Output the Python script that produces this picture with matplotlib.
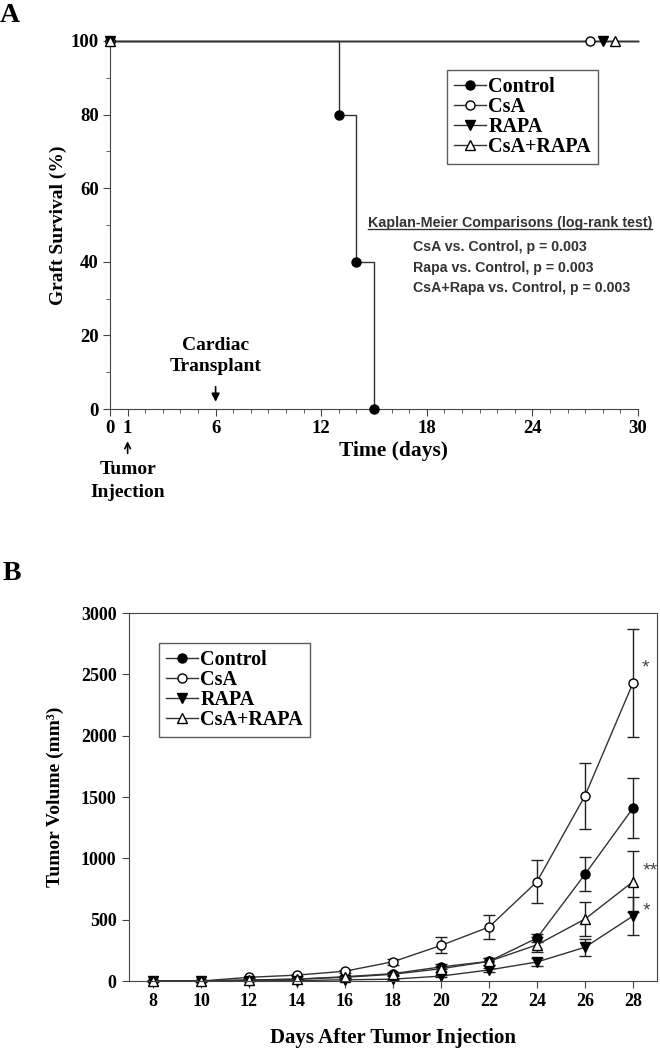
import numpy as np
import matplotlib.pyplot as plt
from matplotlib.ticker import MultipleLocator, FixedLocator
from matplotlib.lines import Line2D

plt.rcParams['font.family'] = ['Liberation Serif', 'DejaVu Serif']
plt.rcParams['font.weight'] = 'bold'

# ---- Panel A: graft survival (Kaplan-Meier) ----
ctrl_times = [0, 13, 14, 15]
ctrl_surv = [100, 80, 40, 0]
groups = ['Control', 'CsA', 'RAPA', 'CsA+RAPA']
flat_groups = ['CsA', 'RAPA', 'CsA+RAPA']
flat_surv = [100, 100, 100]
censor_day = [27.3, 28.0, 28.7]
followup_end = 30

# ---- Panel B: tumor volume ----
days = [8, 10, 12, 14, 16, 18, 20, 22, 24, 26, 28]
control = [0, 0, 8, 15, 35, 60, 115, 160, 350, 870, 1410]
csa = [0, 0, 30, 48, 80, 157, 290, 440, 810, 1510, 2430]
rapa = [0, 0, 2, 3, 10, 15, 40, 90, 155, 275, 530]
csa_rapa = [0, 0, 8, 15, 30, 55, 100, 160, 295, 505, 810]
control_err = [0, 0, 3, 5, 8, 12, 20, 30, 30, 140, 245]
csa_err = [0, 0, 6, 8, 12, 25, 65, 95, 177, 270, 440]
rapa_err = [0, 0, 1, 2, 3, 5, 10, 20, 30, 70, 155]
csa_rapa_err = [0, 0, 3, 5, 8, 12, 25, 30, 60, 140, 250]
stars = ['*', '**', '*']   # CsA, CsA+RAPA, RAPA at day 28

line_c = '#333333'
styles = {
    'Control': dict(marker='o', mfc='black', mec='black', ms=6.5),
    'CsA': dict(marker='o', mfc='white', mec='black', ms=6.5),
    'RAPA': dict(marker='v', mfc='black', mec='black', ms=7),
    'CsA+RAPA': dict(marker='^', mfc='white', mec='black', ms=7),
}

fig = plt.figure(figsize=(6.6, 10.49), dpi=100)
W, H = 660, 1049

def axes_px(l, r, t, b):
    return fig.add_axes([l / W, 1 - b / H, (r - l) / W, (b - t) / H])

def legend_handles():
    return [Line2D([], [], color=line_c, lw=1, **styles[g]) for g in groups]

# ================= Panel A =================
axA = axes_px(110, 638, 41, 409)
axA.step(ctrl_times, ctrl_surv, where='post', color=line_c, lw=1, clip_on=False, zorder=2)
axA.plot(ctrl_times, ctrl_surv, ls='none', clip_on=False, zorder=4, **styles['Control'])
for g, s, c in zip(flat_groups, flat_surv, censor_day):
    axA.plot([0, followup_end], [s, s], color=line_c, lw=1, clip_on=False, zorder=2)
    axA.plot([0, c], [s, s], ls='none', clip_on=False, zorder=4, **styles[g])

axA.set_xlim(0, 30)
axA.set_ylim(0, 100)
for sp in ['top', 'right']:
    axA.spines[sp].set_visible(False)
for sp in ['left', 'bottom']:
    axA.spines[sp].set_color('#444444')
axA.xaxis.set_major_locator(FixedLocator([0, 1, 6, 12, 18, 24, 30]))
axA.xaxis.set_minor_locator(MultipleLocator(1))
axA.yaxis.set_major_locator(MultipleLocator(20))
axA.yaxis.set_minor_locator(MultipleLocator(10))
axA.tick_params(which='both', direction='out', color='#444444')
axA.tick_params(which='major', length=5, labelsize=13.5, pad=3)
axA.tick_params(which='minor', length=3)
for lab in axA.get_xticklabels() + axA.get_yticklabels():
    lab.set_fontweight('bold')
axA.set_ylabel('Graft Survival (%)', fontsize=14, fontweight='bold')
axA.yaxis.set_label_coords(-0.081, 0.5)
axA.set_xlabel('Time (days)', fontsize=15.5, fontweight='bold')
axA.xaxis.set_label_coords(0.536, -0.088)

leg_kw = dict(borderaxespad=0, frameon=True, fancybox=False, edgecolor='#333333',
              prop=dict(family='Liberation Serif', weight='bold', size=14.5),
              labelspacing=0.0, handlelength=1.6, handletextpad=0.1, borderpad=0.35)
legA = axA.legend(legend_handles(), groups, loc='upper left',
                  bbox_to_anchor=(447 / W, 1 - 70 / H), bbox_transform=fig.transFigure, **leg_kw)
legA.get_frame().set_linewidth(1)

# annotations
axA.annotate('', xy=(6, 1.2), xytext=(6, 6.8), annotation_clip=False,
             arrowprops=dict(arrowstyle='-|>', color='black', lw=1.2, mutation_scale=12))
axA.text(6, 14.5, 'Cardiac\nTransplant', ha='center', va='center', fontsize=14,
         fontweight='bold', linespacing=1.3)
axA.annotate('', xy=(1, -8.0), xytext=(1, -12.8), annotation_clip=False,
             arrowprops=dict(arrowstyle='->', color='black', lw=1.2, mutation_scale=10))
axA.text(1, -19.6, 'Tumor\nInjection', ha='center', va='center', fontsize=14,
         fontweight='bold', linespacing=1.45, clip_on=False)

km_font = dict(family=['Liberation Sans', 'DejaVu Sans'], weight='bold', color='#333333')
hdr = axA.text(0.4886, 0.505, 'Kaplan-Meier Comparisons (log-rank test)',
               transform=axA.transAxes, ha='left', va='center', fontsize=10.3, **km_font)
km_lines = ['CsA vs. Control, p = 0.003', 'Rapa vs. Control, p = 0.003',
            'CsA+Rapa vs. Control, p = 0.003']
for i, t in enumerate(km_lines):
    axA.text(0.574, 0.440 - i * 0.0555, t, transform=axA.transAxes, ha='left', va='center',
             fontsize=10.2, **km_font)

# ================= Panel B =================
axB = axes_px(129, 657, 613, 981)
series = [('Control', control, control_err), ('CsA', csa, csa_err),
          ('RAPA', rapa, rapa_err), ('CsA+RAPA', csa_rapa, csa_rapa_err)]
for g, vals, err in series:
    axB.errorbar(days, vals, yerr=err, color=line_c, lw=1, elinewidth=1, capsize=4.3,
                 ecolor='#222222', clip_on=False, **styles[g])

star_style = dict(fontsize=14, color='#444444', fontweight='normal', ha='center', va='center',
                  family=['Liberation Sans', 'DejaVu Sans'])
axB.text(days[-1] + 0.5, csa[-1] + 120, stars[0], **star_style)
axB.text(days[-1] + 0.72, csa_rapa[-1] + 90, stars[1], **star_style)
axB.text(days[-1] + 0.55, rapa[-1] + 40, stars[2], **star_style)

axB.set_xlim(7, 29)
axB.set_ylim(0, 3000)
axB.xaxis.set_major_locator(MultipleLocator(2))
axB.yaxis.set_major_locator(MultipleLocator(500))
for sp in axB.spines.values():
    sp.set_color('#444444')
axB.tick_params(direction='out', length=5, labelsize=13, color='#444444', pad=4)
for lab in axB.get_xticklabels() + axB.get_yticklabels():
    lab.set_fontweight('bold')
axB.set_ylabel('Tumor Volume (mm³)', fontsize=14, fontweight='bold')
axB.yaxis.set_label_coords(-0.123, 0.5)
axB.set_xlabel('Days After Tumor Injection', fontsize=15, fontweight='bold')
axB.xaxis.set_label_coords(0.5, -0.128)

legB = axB.legend(legend_handles(), groups, loc='upper left',
                  bbox_to_anchor=(159 / W, 1 - 643 / H), bbox_transform=fig.transFigure, **leg_kw)
legB.get_frame().set_linewidth(1)

fig.text(0.0, 1 - 16 / H, 'A', fontsize=20, fontweight='bold', ha='left', va='center')
fig.text(0.004, 1 - 574 / H, 'B', fontsize=20, fontweight='bold', ha='left', va='center')

# underline for the Kaplan-Meier header
fig.canvas.draw()
bb = hdr.get_window_extent().transformed(fig.transFigure.inverted())
fig.add_artist(Line2D([bb.x0, bb.x1], [bb.y0 + 0.001, bb.y0 + 0.001], color='#333333',
                      lw=1, transform=fig.transFigure))

fig.savefig('out.png', dpi=100)
